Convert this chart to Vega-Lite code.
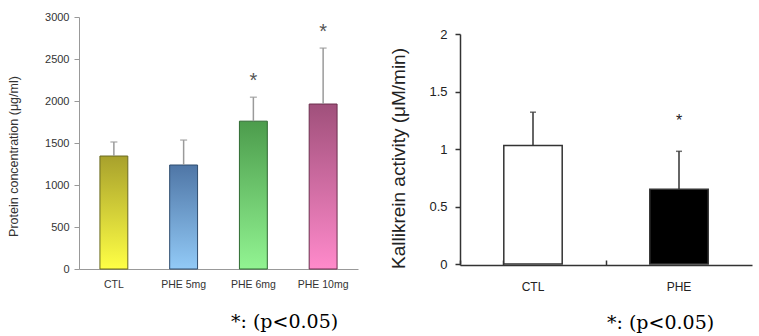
{
  "$schema": "https://vega.github.io/schema/vega-lite/v6.json",
  "background": "white",
  "padding": {"left": 7, "top": 11, "right": 5, "bottom": 0},
  "spacing": 31,
  "config": {"view": {"stroke": null}},
  "hconcat": [
    {
      "width": 279,
      "height": 252,
      "data": {"values": [
        {"g": "CTL", "v": 1345, "e": 1512, "sig": false},
        {"g": "PHE 5mg", "v": 1238, "e": 1535, "sig": false},
        {"g": "PHE 6mg", "v": 1760, "e": 2045, "sig": true},
        {"g": "PHE 10mg", "v": 1964, "e": 2630, "sig": true}
      ]},
      "title": {"text": "*: (p<0.05)", "orient": "bottom", "anchor": "start", "frame": "group", "dx": 152, "offset": 23, "font": "DejaVu Serif", "fontSize": 19, "fontWeight": "normal", "color": "#000"},
      "encoding": {
        "x": {"field": "g", "type": "nominal", "sort": null,
          "scale": {"paddingInner": 0.6, "paddingOuter": 0.3},
          "axis": {"title": null, "labelAngle": 0, "ticks": false, "labelPadding": 10, "labelFont": "Liberation Sans", "labelFontSize": 10.5, "labelColor": "#333", "domainColor": "#999", "domainWidth": 1}}
      },
      "layer": [
        {"transform": [{"filter": "datum.g == 'CTL'"}],
         "mark": {"type": "bar", "stroke": "#6b6a22", "strokeWidth": 1,
           "color": {"gradient": "linear", "x1": 0, "y1": 0, "x2": 0, "y2": 1, "stops": [{"offset": 0, "color": "#a8a12c"}, {"offset": 1, "color": "#ffff45"}]}},
         "encoding": {"y": {"field": "v", "type": "quantitative",
           "scale": {"domain": [0, 3000]},
           "axis": {"title": "Protein concentration (μg/ml)", "format": "d", "values": [0, 500, 1000, 1500, 2000, 2500, 3000], "grid": false, "tickSize": 5, "tickColor": "#999", "domainColor": "#999", "labelPadding": 5, "labelFont": "Liberation Sans", "labelFontSize": 11, "labelColor": "#333", "titleFont": "Liberation Sans", "titleFontSize": 12.5, "titleFontWeight": "normal", "titleColor": "#333", "titlePadding": 24, "titleY": 139}}}},
        {"transform": [{"filter": "datum.g == 'PHE 5mg'"}],
         "mark": {"type": "bar", "stroke": "#2f4d6e", "strokeWidth": 1,
           "color": {"gradient": "linear", "x1": 0, "y1": 0, "x2": 0, "y2": 1, "stops": [{"offset": 0, "color": "#4f76a6"}, {"offset": 1, "color": "#92caf7"}]}},
         "encoding": {"y": {"field": "v", "type": "quantitative"}}},
        {"transform": [{"filter": "datum.g == 'PHE 6mg'"}],
         "mark": {"type": "bar", "stroke": "#2f6a32", "strokeWidth": 1,
           "color": {"gradient": "linear", "x1": 0, "y1": 0, "x2": 0, "y2": 1, "stops": [{"offset": 0, "color": "#4c9c4c"}, {"offset": 1, "color": "#92f492"}]}},
         "encoding": {"y": {"field": "v", "type": "quantitative"}}},
        {"transform": [{"filter": "datum.g == 'PHE 10mg'"}],
         "mark": {"type": "bar", "stroke": "#6c2f4e", "strokeWidth": 1,
           "color": {"gradient": "linear", "x1": 0, "y1": 0, "x2": 0, "y2": 1, "stops": [{"offset": 0, "color": "#a0507b"}, {"offset": 1, "color": "#ff8acb"}]}},
         "encoding": {"y": {"field": "v", "type": "quantitative"}}},
        {"mark": {"type": "rule", "color": "#9a9a9a", "strokeWidth": 1.5},
         "encoding": {"y": {"field": "v", "type": "quantitative"}, "y2": {"field": "e"}}},
        {"mark": {"type": "tick", "color": "#9a9a9a", "size": 7, "thickness": 1.5},
         "encoding": {"y": {"field": "e", "type": "quantitative"}}},
        {"transform": [{"filter": "datum.sig"}],
         "mark": {"type": "text", "text": "*", "dy": -16, "fontSize": 20, "font": "Liberation Sans", "color": "#555", "baseline": "middle"},
         "encoding": {"y": {"field": "e", "type": "quantitative"}}}
      ]
    },
    {
      "width": 292,
      "height": 248,
      "data": {"values": [
        {"g": "CTL", "v": 1.03, "e": 1.32, "sig": false, "f": "white"},
        {"g": "PHE", "v": 0.65, "e": 0.98, "sig": true, "f": "black"}
      ]},
      "title": {"text": "*: (p<0.05)", "orient": "bottom", "anchor": "start", "frame": "group", "dx": 147, "offset": 22, "font": "DejaVu Serif", "fontSize": 19, "fontWeight": "normal", "color": "#000"},
      "encoding": {
        "x": {"field": "g", "type": "nominal", "sort": null,
          "scale": {"paddingInner": 0.6, "paddingOuter": 0.3},
          "axis": {"title": null, "labelAngle": 0, "bandPosition": -0.75, "tickExtra": true, "tickSize": -5, "tickColor": "#333", "tickWidth": 1.5, "labelPadding": 21, "labelFont": "Liberation Sans", "labelFontSize": 12, "labelColor": "#222", "domainColor": "#333", "domainWidth": 1.5}}
      },
      "layer": [
        {"mark": {"type": "bar", "stroke": "#333", "strokeWidth": 1.5},
         "encoding": {
           "y": {"field": "v", "type": "quantitative",
             "scale": {"domain": [0, 2], "range": [247, 17]},
             "axis": {"title": "Kallikrein activity (μM/min)", "format": "~g", "values": [0, 0.5, 1, 1.5, 2], "grid": false, "tickSize": 5, "tickColor": "#333", "tickWidth": 1.5, "domainColor": "#333", "domainWidth": 1.5, "labelPadding": 8, "labelFont": "Liberation Sans", "labelFontSize": 13, "labelColor": "#222", "titleFont": "Liberation Sans", "titleFontSize": 19, "titleFontWeight": "normal", "titleColor": "#222", "titlePadding": 20, "titleY": 141}},
           "fill": {"field": "f", "type": "nominal", "scale": null, "legend": null}
         }},
        {"mark": {"type": "rule", "color": "#333", "strokeWidth": 1.5},
         "encoding": {"y": {"field": "v", "type": "quantitative"}, "y2": {"field": "e"}}},
        {"mark": {"type": "tick", "color": "#333", "size": 6, "thickness": 1.5},
         "encoding": {"y": {"field": "e", "type": "quantitative"}}},
        {"transform": [{"filter": "datum.sig"}],
         "mark": {"type": "text", "text": "*", "dy": -30, "fontSize": 16, "font": "Liberation Sans", "color": "#222", "baseline": "middle"},
         "encoding": {"y": {"field": "e", "type": "quantitative"}}}
      ]
    }
  ]
}
